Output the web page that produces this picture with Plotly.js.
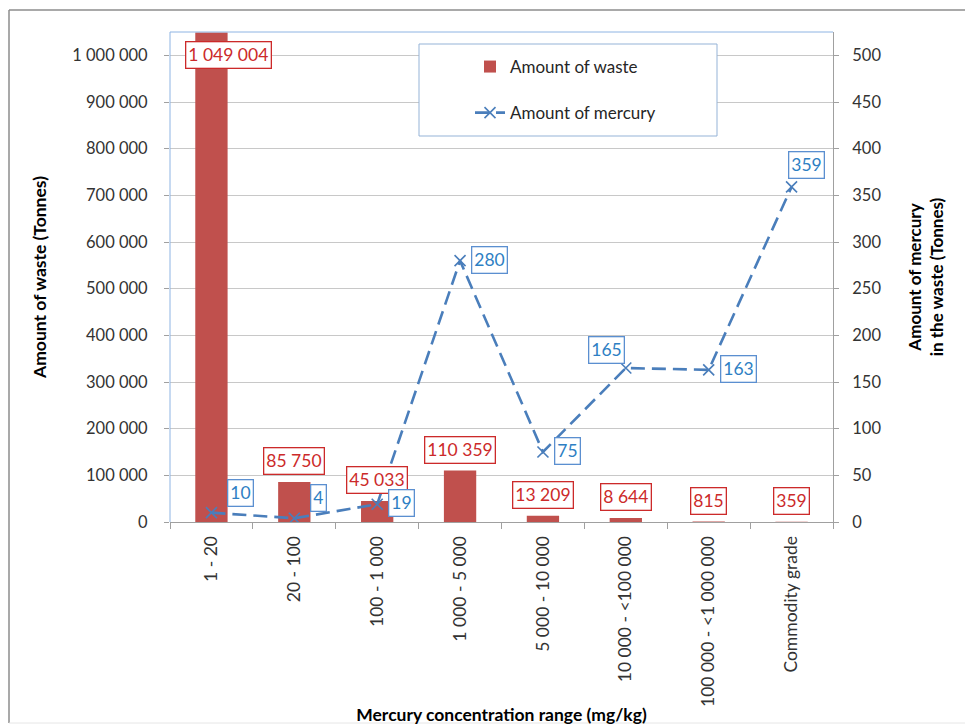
<!DOCTYPE html>
<html>
<head>
<meta charset="utf-8">
<script src="https://cdn.plot.ly/plotly-3.0.1.min.js"></script>
<style>
  html, body { margin: 0; padding: 0; background: #ffffff; }
  #chart { width: 965px; height: 725px; }
</style>
</head>
<body>
<div id="chart"></div>
<script>
// ---- data ----
var categories = ["1 - 20", "20 - 100", "100 - 1 000", "1 000 - 5 000", "5 000 - 10 000",
                  "10 000 - <100 000", "100 000 - <1 000 000", "Commodity grade"];
var wasteAmount = [1049004, 85750, 45033, 110359, 13209, 8644, 815, 359];
var mercuryAmount = [10, 4, 19, 280, 75, 165, 163, 359];
var wasteName = "Amount of waste";
var mercuryName = "Amount of mercury";
var wasteAxisTitle = "Amount of waste (Tonnes)";
var mercuryAxisTitle = "Amount of mercury<br>in the waste (Tonnes)";
var xAxisTitle = "Mercury concentration range (mg/kg)";

// label placement keywords for mercury data labels (style, not data)
var mercuryLabelPlacement = ["upper-right", "upper-right", "right", "right", "right", "upper-left", "right", "above"];

// ---- styling ----
var FONT = "Lato, 'Open Sans', sans-serif";
var RED = "#c0504d";
var RED_TEXT = "#cc2a2a";
var BLUE = "#4a7ebb";
var BLUE_TEXT = "#2e7fc4";
var BLUE_BORDER = "#5b8fd0";
var GRID = "#c8c8c8";
var AXIS = "#a0a0a0";

var yMax = 1050000, y2Max = 525;

function fmt(v) { return String(v).replace(/\B(?=(\d{3})+(?!\d))/g, " "); }

var traces = [
  {
    type: "bar", name: wasteName, x: categories, y: wasteAmount,
    marker: { color: RED }, width: 0.39, yaxis: "y",
    legendgroup: "a", hoverinfo: "x+y"
  },
  {
    type: "scatter", mode: "lines+markers", name: mercuryName, x: categories, y: mercuryAmount,
    yaxis: "y2", legendgroup: "b",
    line: { color: BLUE, width: 2.6, dash: "14px,7px" },
    marker: { symbol: "x-thin", size: 11, line: { color: BLUE, width: 1.6 }, color: BLUE }
  }
];

var annotations = [];
wasteAmount.forEach(function (v, i) {
  var inside = v > 0.9 * yMax;
  annotations.push({
    xref: "x", yref: "y", x: categories[i], y: v,
    text: fmt(v), showarrow: false,
    yanchor: inside ? "top" : "bottom",
    yshift: inside ? -9 : 7, xshift: inside ? 17 : 0,
    font: { family: FONT, size: 17.5, color: RED_TEXT },
    bgcolor: "#ffffff", bordercolor: RED_TEXT, borderwidth: 1.3, borderpad: 2
  });
});
var placements = {
  "right":       { xanchor: "left",   xshift: 11, yshift: 1 },
  "upper-right": { xanchor: "left",   xshift: 16, yshift: 20 },
  "upper-left":  { xanchor: "right",  xshift: -1, yshift: 18 },
  "above":       { xanchor: "center", xshift: 15, yshift: 22 }
};
mercuryAmount.forEach(function (v, i) {
  var p = placements[mercuryLabelPlacement[i]];
  annotations.push({
    xref: "x", yref: "y2", x: categories[i], y: v,
    text: fmt(v), showarrow: false,
    xanchor: p.xanchor, yanchor: "middle", xshift: p.xshift, yshift: p.yshift,
    font: { family: FONT, size: 17.5, color: BLUE_TEXT },
    bgcolor: "#ffffff", bordercolor: BLUE_BORDER, borderwidth: 1.3, borderpad: 2
  });
});

var L = 170, R = 833, T = 32, B = 522;
function px(x) { return (x - L) / (R - L); }
function py(y) { return (B - y) / (B - T); }

var shapes = [
  // outer chart frame
  { type: "line", xref: "paper", yref: "paper", x0: px(9), x1: px(9), y0: py(723), y1: py(10), line: { color: "#8c8c8c", width: 1.5 }, layer: "above" },
  { type: "line", xref: "paper", yref: "paper", x0: px(9), x1: px(980), y0: py(10), y1: py(10), line: { color: "#8c8c8c", width: 1.5 }, layer: "above" },
  { type: "line", xref: "paper", yref: "paper", x0: px(9), x1: px(980), y0: py(723), y1: py(723), line: { color: "#e6e6e6", width: 1 }, layer: "above" },
  // plot area border (top and left, light blue)
  { type: "line", xref: "paper", yref: "paper", x0: 0, x1: 1, y0: 1, y1: 1, line: { color: "#8eb4e3", width: 1 }, layer: "above" },
  { type: "line", xref: "paper", yref: "paper", x0: 0, x1: 0, y0: 0, y1: 1, line: { color: "#8eb4e3", width: 1 }, layer: "above" },
  // legend box
  { type: "rect", xref: "paper", yref: "paper", x0: px(419), x1: px(717), y0: py(136), y1: py(44),
    line: { color: "#95b3d7", width: 1 }, fillcolor: "#ffffff", layer: "above" }
];

var layout = {
  width: 965, height: 725,
  margin: { l: L, r: 965 - R, t: T, b: 725 - B, pad: 0 },
  paper_bgcolor: "#ffffff", plot_bgcolor: "#ffffff",
  font: { family: FONT, size: 16, color: "#333333" },
  separators: ". ",
  showlegend: true,
  legend: {
    x: px(470), y: py(49), xanchor: "left", yanchor: "top",
    bgcolor: "rgba(0,0,0,0)", borderwidth: 0,
    font: { family: FONT, size: 17, color: "#262626" },
    traceorder: "grouped", tracegroupgap: 21
  },
  xaxis: {
    type: "category", categoryorder: "array", categoryarray: categories,
    tickangle: -90, ticks: "outside", ticklen: 6, tickcolor: AXIS, tickson: "boundaries",
    showline: true, linecolor: AXIS, linewidth: 1, showgrid: false,
    tickfont: { family: FONT, size: 17.5, color: "#333333" }, ticklabelstandoff: 6,
    title: { text: xAxisTitle, font: { family: FONT, size: 17.5, color: "#000000", weight: "bold" }, standoff: 26 },
    automargin: false
  },
  yaxis: {
    range: [0, yMax], dtick: 100000, tick0: 0, tickformat: ",d",
    ticks: "outside", ticklen: 5, tickcolor: AXIS,
    showline: false, showgrid: true, gridcolor: GRID, gridwidth: 1, zeroline: false,
    tickfont: { family: FONT, size: 16.5, color: "#333333" }, ticklabelstandoff: 13,
    title: { text: wasteAxisTitle, font: { family: FONT, size: 17.5, color: "#000000", weight: "bold" }, standoff: 21 },
    automargin: false, fixedrange: true
  },
  yaxis2: {
    overlaying: "y", side: "right",
    range: [0, y2Max], dtick: 50, tick0: 0,
    ticks: "outside", ticklen: 5, tickcolor: AXIS,
    showline: true, linecolor: AXIS, linewidth: 1, showgrid: false, zeroline: false,
    tickfont: { family: FONT, size: 16.5, color: "#333333" }, ticklabelstandoff: 10,
    title: { text: mercuryAxisTitle, font: { family: FONT, size: 17, color: "#000000", weight: "bold" }, standoff: 28 },
    automargin: false, fixedrange: true
  },
  annotations: annotations,
  shapes: shapes
};

Plotly.newPlot("chart", traces, layout, { displayModeBar: false, staticPlot: true });
</script>
</body>
</html>
